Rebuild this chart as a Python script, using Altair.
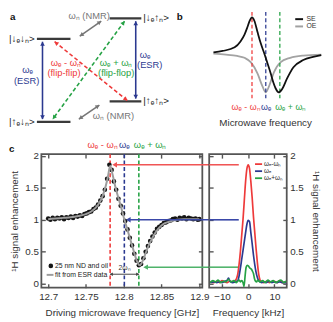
import math
import altair as alt
import pandas as pd

FONT = "Liberation Sans"
RED = "#ee3a3a"
BLUE = "#2b3990"
GREEN = "#25a244"
NMRGRAY = "#767676"
INK = "#333333"
FRAME = "#555555"

KINDS = ["red", "blue", "green", "gray", "black"]
KIND_COLORS = [RED, BLUE, GREEN, NMRGRAY, INK]


def kcolor():
    return alt.Color("kind:N", scale=alt.Scale(domain=KINDS, range=KIND_COLORS), legend=None)


# ---------------- panel a : energy level diagram (diagram units) ----------------
level_x1 = [31, 109, 31, 109]
level_x2 = [67, 143, 67, 143]
level_y = [32, 10, 121, 99]
ket_text = ["|↓ₑ↓ₙ>", "|↓ₑ↑ₙ>", "|↑ₑ↓ₙ>", "|↑ₑ↑ₙ>"]
ket_x = [1, 145, 1, 145]
ket_y = [32, 10, 121, 99]
arrow_x1 = [37, 137, 77, 76, 50, 125]
arrow_y1 = [35, 13, 29, 118, 35, 13]
arrow_x2 = [37, 137, 100, 98, 128, 48]
arrow_y2 = [118, 96, 13, 103, 98, 118]
arrow_kind = ["blue", "blue", "gray", "gray", "red", "green"]
arrow_dash = ["solid", "solid", "solid", "solid", "dash", "dash"]
lab_text = ["ωₑ", "(ESR)", "ωₑ", "(ESR)", "ωₑ - ωₙ", "(flip-flip)", "ωₑ + ωₙ", "(flip-flop)", "ωₙ (NMR)", "ωₙ (NMR)"]
lab_x = [21, 20, 147, 152, 62, 60, 116, 116, 87, 113]
lab_y = [65, 77, 49, 60, 58, 69, 58, 69, 8, 115]
lab_kind = ["blue", "blue", "blue", "blue", "red", "red", "green", "green", "gray", "gray"]

# ---------------- panel b : schematic polarization curves ----------------
se_x = [3.8, 12, 22.8, 28, 31.6, 34, 36, 38.3, 40.5, 43.3, 46, 49.1, 52, 55, 57.5, 59.4, 62.3, 65.2, 69.6, 75.4, 84.2, 93, 100.3]
se_y = [1.01, 1.04, 1.12, 1.25, 1.40, 1.55, 1.69, 1.78, 1.70, 1.45, 1.22, 1.00, 0.78, 0.55, 0.34, 0.22, 0.13, 0.20, 0.43, 0.68, 0.84, 0.91, 0.95]
oe_x = [3.8, 15, 25, 31.6, 37.4, 43.3, 47.7, 50.6, 53.5, 57.9, 63.7, 72.5, 84.2, 100.3]
oe_y = [0.98, 0.96, 0.93, 0.89, 0.79, 0.54, 0.26, 0.13, 0.26, 0.57, 0.79, 0.89, 0.94, 0.96]
b_mark_x = [38.3, 50.6, 63.2]
b_mark_kind = ["red", "blue", "green"]
b_mark_text = ["ωₑ - ωₙ", "ωₑ", "ωₑ + ωₙ"]
b_mark_text_x = [33, 51, 73]
b_leg_text = ["SE", "OE"]
b_leg_y = [1.74, 1.58]
b_leg_color = ["#111111", "#a0a0a0"]
b_xtitle = "Microwave frequency"

# ---------------- panel c left : DNP sweep ----------------
dots_f = [12.700, 12.703, 12.706, 12.709, 12.712, 12.715, 12.718, 12.721, 12.724, 12.727,
          12.730, 12.733, 12.736, 12.739, 12.742, 12.745, 12.748, 12.751, 12.754, 12.757,
          12.760, 12.763, 12.766, 12.769, 12.772, 12.775, 12.778, 12.781, 12.784, 12.787,
          12.790, 12.793, 12.796, 12.799, 12.802, 12.805, 12.808, 12.811, 12.814, 12.817,
          12.820, 12.823, 12.826, 12.829, 12.832, 12.835, 12.838, 12.841, 12.844, 12.847,
          12.850, 12.853, 12.856, 12.859, 12.862, 12.865, 12.868, 12.871, 12.874, 12.877,
          12.880, 12.883, 12.886, 12.889, 12.892, 12.895, 12.898, 12.900]
dots_e = [1.02, 1.00, 1.03, 1.01, 1.03, 1.02, 1.04, 1.01, 1.04, 1.03,
          1.05, 1.03, 1.06, 1.05, 1.07, 1.06, 1.09, 1.10, 1.12, 1.13,
          1.17, 1.19, 1.24, 1.30, 1.37, 1.47, 1.64, 1.86, 1.78, 1.60,
          1.47, 1.33, 1.22, 1.10, 0.98, 0.85, 0.72, 0.60, 0.47, 0.36,
          0.29, 0.31, 0.40, 0.50, 0.59, 0.67, 0.74, 0.80, 0.86, 0.89,
          0.92, 0.95, 0.96, 0.98, 0.99, 1.01, 1.02, 1.00, 1.03, 1.02,
          1.04, 1.01, 1.03, 1.02, 1.01, 1.02, 1.00, 1.01]
fit_f = [12.700, 12.710, 12.720, 12.730, 12.740, 12.750, 12.757, 12.763, 12.768, 12.772,
         12.776, 12.779, 12.782, 12.785, 12.788, 12.792, 12.796, 12.800, 12.805, 12.810,
         12.814, 12.818, 12.821, 12.824, 12.828, 12.833, 12.838, 12.845, 12.852, 12.860,
         12.870, 12.880, 12.890, 12.900]
fit_e = [1.01, 1.02, 1.03, 1.04, 1.06, 1.09, 1.13, 1.19, 1.27, 1.37,
         1.52, 1.67, 1.84, 1.72, 1.56, 1.38, 1.22, 1.04, 0.84, 0.64,
         0.48, 0.34, 0.29, 0.33, 0.45, 0.60, 0.72, 0.85, 0.93, 0.97,
         1.00, 1.01, 1.01, 1.01]
c_line_f = [12.782, 12.8008, 12.820]
c_line_kind = ["red", "blue", "green"]
c_top_text = ["ωₑ - ωₙ", "ωₑ", "ωₑ + ωₙ"]
c_top_x = [12.772, 12.8007, 12.835]
harrow_tip = [12.788, 12.806, 12.829]
harrow_level = [1.86, 1.0, 0.26]
harrow_color = ["#f05555", "#3a48a8", "#4fb36a"]
split_f = [12.782, 12.820]
split_level = 0.15

# ---------------- panel c right : NMR spectra ----------------
red_k = [-14.5, -13, -12, -11, -10, -9, -8, -7, -6, -5, -4.5, -4, -3.5, -3, -2.5, -2, -1.5, -1, -0.5, 0,
         0.5, 1, 1.5, 2, 2.5, 3, 3.5, 4, 4.5, 5, 6, 7, 8, 9, 10, 11, 12, 13, 14.5]
red_s = [0.03, 0.02, 0.04, 0.02, 0.05, 0.03, 0.02, 0.04, 0.03, 0.05, 0.08, 0.15, 0.30, 0.50, 0.75, 1.00, 1.30, 1.60, 1.80, 1.86,
         1.80, 1.60, 1.35, 1.05, 0.80, 0.55, 0.33, 0.15, 0.06, 0.03, 0.02, 0.04, 0.02, 0.03, 0.04, 0.02, 0.05, 0.02, 0.03]
blue_k = [-14.5, -13, -12, -11, -10, -9, -8, -7.5, -7, -6, -5, -4, -3.5, -3, -2.5, -2, -1.5, -1, -0.5, 0,
          0.5, 1, 1.5, 2, 2.5, 3, 3.5, 4, 4.5, 5, 6, 7, 8, 9, 10, 11, 12, 13, 14.5]
blue_s = [0.02, 0.03, 0.02, 0.03, 0.02, 0.04, 0.06, 0.09, 0.04, 0.02, 0.03, 0.05, 0.12, 0.24, 0.38, 0.52, 0.66, 0.80, 0.93, 0.99,
          0.97, 0.80, 0.63, 0.45, 0.30, 0.18, 0.10, 0.05, 0.03, 0.02, 0.03, 0.02, 0.04, 0.02, 0.03, 0.02, 0.03, 0.02, 0.02]
green_k = [-14.5, -13.5, -12.5, -11.5, -10.5, -9.5, -8.5, -7.5, -6.5, -5.5, -4.5, -4, -3.5, -3, -2.5, -2, -1.6, -1.2, -0.8, -0.4,
           0, 0.4, 0.8, 1.2, 1.6, 2, 2.4, 2.8, 3.2, 3.6, 4.5, 5.5, 6.5, 7.5, 8.5, 9.5, 10.5, 11.5, 12.5, 13.5, 14.5]
green_s = [0.02, 0.05, 0.03, 0.06, 0.02, 0.04, 0.03, 0.07, 0.03, 0.05, 0.02, 0.04, 0.06, 0.03, 0.05, 0.02, -0.04, 0.12, 0.26, 0.29,
           0.28, 0.26, 0.24, 0.23, 0.20, 0.16, 0.08, 0.04, 0.03, 0.06, 0.03, 0.05, 0.02, 0.06, 0.03, 0.05, 0.02, 0.04, 0.06, 0.02, 0.04]
r_arrow_end = -3.6
r_leg_text = ["ωₑ-ωₙ", "ωₑ", "ωₑ+ωₙ"]
r_leg_y = [1.87, 1.76, 1.65]
r_leg_kind = ["red", "blue", "green"]

# =============================== build ===============================
# layout: flat 2x2 grid with flush bounds; x origin = left edge of the panel-c plot
ORIGIN_LEFT = 34          # px from the diagram's left edge to the grid origin
TOP_TRIM = 3              # diagram units trimmed at the top of panel a
COL1_W, COL2_W = 164, 115
A_H, B_H = 122, 88
SX, SY = 0.95, 0.95
C_H = 136
ROW_GAP = 9
COL_GAP = 7
CR_W = 79

# ---- panel a
xa = alt.Scale(domain=[ORIGIN_LEFT / SX, (ORIGIN_LEFT + COL1_W) / SX], nice=False, zero=False)
ya = alt.Scale(domain=[TOP_TRIM, TOP_TRIM + A_H / SY], nice=False, zero=False, reverse=True)

levels = pd.DataFrame({"x": level_x1, "x2": level_x2, "y": level_y})
kets = pd.DataFrame({"x": ket_x, "y": ket_y, "t": ket_text})
arrows = pd.DataFrame({"x": arrow_x1, "y": arrow_y1, "x2": arrow_x2, "y2": arrow_y2,
                       "kind": arrow_kind, "dash": arrow_dash})
heads = []
for x1, y1, x2, y2, k in zip(arrow_x1, arrow_y1, arrow_x2, arrow_y2, arrow_kind):
    for ax, ay, bx, by in [(x1, y1, x2, y2), (x2, y2, x1, y1)]:
        dx, dy = (bx - ax) * SX, (by - ay) * SY
        L = math.hypot(dx, dy)
        ang = math.degrees(math.atan2(dx, -dy)) % 360
        heads.append({"x": bx - dx / L * 2.0 / SX, "y": by - dy / L * 2.0 / SY, "ang": ang, "kind": k})
heads = pd.DataFrame(heads)
alabs = pd.DataFrame({"x": lab_x, "y": lab_y, "t": lab_text, "kind": lab_kind})

AX = alt.X("x:Q", scale=xa, axis=None)
AY = alt.Y("y:Q", scale=ya, axis=None)

pa = alt.layer(
    alt.Chart(levels).mark_rule(color="#3a3a3a", strokeWidth=2.2).encode(x=AX, x2="x2:Q", y=AY),
    alt.Chart(arrows[arrows.dash == "solid"]).mark_rule(strokeWidth=1.6).encode(
        x=AX, y=AY, x2="x2:Q", y2="y2:Q", color=kcolor()),
    alt.Chart(arrows[arrows.dash == "dash"]).mark_rule(strokeWidth=1.6, strokeDash=[4, 2.5]).encode(
        x=AX, y=AY, x2="x2:Q", y2="y2:Q", color=kcolor()),
    alt.Chart(heads).mark_point(shape="triangle-up", filled=True, size=22, opacity=1).encode(
        x=AX, y=AY, angle=alt.Angle("ang:Q", scale=None), color=kcolor()),
    alt.Chart(kets).mark_text(align="left", baseline="middle", fontSize=10, color="#222222").encode(
        x=AX, y=AY, text="t:N"),
    alt.Chart(alabs).mark_text(align="center", baseline="middle", fontSize=9.5).encode(
        x=AX, y=AY, text="t:N", color=kcolor()),
    alt.Chart(pd.DataFrame({"t": ["a"]})).mark_text(
        align="left", baseline="top", fontSize=10, fontWeight="bold", color="#111111").encode(
        x=alt.value(-32), y=alt.value(0), text="t:N"),
).properties(width=COL1_W, height=A_H)

# ---- panel b
xb = alt.Scale(domain=[0, 101], nice=False, zero=False)
yb = alt.Scale(domain=[0, 1.9], nice=False, zero=False)
BX = alt.X("x:Q", scale=xb, axis=alt.Axis(title=None, labels=False, ticks=False,
                                            domainColor=FRAME, domainWidth=2, grid=False))
BY = alt.Y("y:Q", scale=yb, axis=alt.Axis(title=["Nuclear", "polarization"], values=[1], tickSize=3,
                                            tickColor=FRAME, domainColor=FRAME, domainWidth=2, grid=False,
                                            labelFontSize=10, labelColor=INK, labelPadding=3,
                                            titleFontSize=10, titleFontWeight="normal", titleColor=INK,
                                            titlePadding=4, titleLineHeight=11))
BX0 = alt.X("x:Q", scale=xb, axis=None)
BY0 = alt.Y("y:Q", scale=yb, axis=None)
se_df = pd.DataFrame({"x": se_x, "y": se_y})
oe_df = pd.DataFrame({"x": oe_x, "y": oe_y})
bm = pd.DataFrame({"x": b_mark_x, "kind": b_mark_kind})
bmt = pd.DataFrame({"x": b_mark_text_x, "t": b_mark_text, "kind": b_mark_kind, "y": [-0.2] * 3})
bleg = pd.DataFrame({"t": b_leg_text, "y": b_leg_y, "c": b_leg_color, "x": [77] * 2, "x2": [84] * 2, "xt": [87] * 2})

pb = alt.layer(
    alt.Chart(oe_df).mark_line(color="#a3a3a3", strokeWidth=1.8, interpolate="monotone").encode(x=BX, y=BY),
    alt.Chart(bm).mark_rule(strokeWidth=1.5, strokeDash=[4, 2.5], opacity=0.85).encode(x=BX0, color=kcolor()),
    alt.Chart(se_df).mark_line(color="#111111", strokeWidth=1.8, interpolate="monotone").encode(x=BX0, y=BY0),
    alt.Chart(bmt).mark_text(fontSize=9, baseline="middle").encode(x=BX0, y=BY0, text="t:N", color=kcolor()),
    alt.Chart(bleg).mark_rule(strokeWidth=2).encode(x=BX0, x2="x2:Q", y=BY0,
                                                    color=alt.Color("c:N", scale=None)),
    alt.Chart(bleg).mark_text(align="left", baseline="middle", fontSize=7, color=INK).encode(
        x=alt.X("xt:Q", scale=xb, axis=None), y=BY0, text="t:N"),
    alt.Chart(pd.DataFrame({"t": [b_xtitle]})).mark_text(
        align="center", baseline="middle", fontSize=10, color=INK).encode(
        x=alt.value(COL2_W / 2), y=alt.value(B_H + 25), text="t:N"),
    alt.Chart(pd.DataFrame({"t": ["b"]})).mark_text(
        align="left", baseline="top", fontSize=10, fontWeight="bold", color="#111111").encode(
        x=alt.value(-33), y=alt.value(0), text="t:N"),
).properties(width=COL2_W, height=B_H)

# ---- panel c shared pieces
yc = alt.Scale(domain=[-0.06, 2.025], nice=False, zero=False)
TICK = dict(domain=False, tickSize=4, offset=-4, tickColor=FRAME, tickWidth=1.4, grid=False)
YVALS = [0, 0.5, 1, 1.5, 2]

# ---- panel c left
xl = alt.Scale(domain=[12.691, 12.904], nice=False, zero=False)
LX0 = alt.X("x:Q", scale=xl, axis=None)
LY0 = alt.Y("y:Q", scale=yc, axis=None)
dots = pd.DataFrame({"x": dots_f, "y": dots_e})
fit = pd.DataFrame({"x": fit_f, "y": fit_e})
cl_lines = pd.DataFrame({"x": c_line_f, "kind": c_line_kind})
cl_top = pd.DataFrame({"x": c_top_x, "t": c_top_text, "kind": c_line_kind, "y": [2.17] * 3})
harr = pd.DataFrame({"x": harrow_tip, "x2": [12.913] * 3, "y": harrow_level, "c": harrow_color})
split = pd.DataFrame({"x": [split_f[0]], "x2": [split_f[1]], "y": [split_level]})
split_heads = pd.DataFrame({"x": [split_f[0] + 0.0015, split_f[1] - 0.0015], "y": [split_level] * 2,
                            "s": ["triangle-left", "triangle-right"]})
leg_rows = pd.DataFrame({"x": [12.709, 12.709], "y": [0.28, 0.14],
                         "t": ["25 nm ND and oil", "fit from ESR data"]})

cl = alt.layer(
    alt.Chart(cl_lines).mark_rule(strokeWidth=1.6, strokeDash=[4, 2.5]).encode(x=LX0, color=kcolor()),
    alt.Chart(dots).mark_circle(size=22, color="#151515", opacity=1).encode(
        x=alt.X("x:Q", scale=xl, axis=alt.Axis(values=[12.7, 12.75, 12.8, 12.85, 12.9], format="~g",
                                                title="Driving microwave frequency [GHz]", labelPadding=4,
                                                titlePadding=6, **TICK)),
        y=alt.Y("y:Q", scale=yc, axis=alt.Axis(values=YVALS, format="~g", title="¹H signal enhancement",
                                                labelPadding=3, titlePadding=5, **TICK))),
    alt.Chart(fit).mark_line(color="#9c9c9c", strokeWidth=2, interpolate="monotone").encode(x=LX0, y=LY0),
    alt.Chart(harr).mark_rule(strokeWidth=1.6).encode(x=LX0, x2="x2:Q", y=LY0, color=alt.Color("c:N", scale=None)),
    alt.Chart(harr).mark_point(shape="triangle-left", filled=True, size=30, opacity=1).encode(
        x=LX0, y=LY0, color=alt.Color("c:N", scale=None)),
    alt.Chart(cl_top).mark_text(fontSize=9.5, baseline="middle").encode(x=LX0, y=LY0, text="t:N", color=kcolor()),
    alt.Chart(split).mark_rule(strokeWidth=1, color="#444444").encode(x=LX0, x2="x2:Q", y=LY0),
    alt.Chart(split_heads).mark_point(filled=True, size=14, opacity=1, color="#444444").encode(
        x=LX0, y=LY0, shape=alt.Shape("s:N", scale=None)),
    alt.Chart(pd.DataFrame({"x": [12.801], "y": [0.25], "t": ["2ωₙ"]})).mark_text(
        fontSize=7, color="#333333").encode(x=LX0, y=LY0, text="t:N"),
    alt.Chart(leg_rows.iloc[:1]).mark_circle(size=22, color="#151515", opacity=1).encode(
        x=alt.X("x0:Q", scale=xl, axis=None), y=LY0).transform_calculate(x0="datum.x - 0.0055"),
    alt.Chart(leg_rows.iloc[1:]).mark_rule(strokeWidth=2, color="#9c9c9c").encode(
        x=alt.X("x0:Q", scale=xl, axis=None), x2="x1:Q", y=LY0).transform_calculate(
        x0="datum.x - 0.011", x1="datum.x - 0.002"),
    alt.Chart(leg_rows).mark_text(align="left", baseline="middle", fontSize=7, color="#222222").encode(
        x=LX0, y=LY0, text="t:N"),
    alt.Chart(pd.DataFrame({"x": [12.8], "y": [1.0]})).mark_point(opacity=0).encode(
        x=alt.X("x:Q", scale=xl, axis=alt.Axis(orient="top", values=[12.7, 12.75, 12.8, 12.85, 12.9],
                                                labels=False, title=None, **TICK)),
        y=alt.Y("y:Q", scale=yc, axis=alt.Axis(orient="right", values=YVALS, labels=False, title=None, **TICK))),
    alt.Chart(pd.DataFrame({"t": ["c"]})).mark_text(
        align="left", baseline="top", fontSize=10, fontWeight="bold", color="#111111").encode(
        x=alt.value(-33), y=alt.value(-10), text="t:N"),
).resolve_axis(x="independent", y="independent").properties(
    width=COL1_W, height=C_H, view=alt.ViewBackground(stroke=FRAME, strokeWidth=1.8))

# ---- panel c right
xr = alt.Scale(domain=[-14.9, 14.7], nice=False, zero=False)
RX0 = alt.X("x:Q", scale=xr, axis=None)
RY0 = alt.Y("y:Q", scale=yc, axis=None)
spec = pd.concat([
    pd.DataFrame({"x": red_k, "y": red_s, "kind": "red"}),
    pd.DataFrame({"x": blue_k, "y": blue_s, "kind": "blue"}),
    pd.DataFrame({"x": green_k, "y": green_s, "kind": "green"}),
])
rarr = pd.DataFrame({"x": [-14.9] * 3, "x2": [r_arrow_end] * 3, "y": harrow_level, "c": harrow_color})
rleg = pd.DataFrame({"x": [2.6] * 3, "x2": [5.3] * 3, "xt": [6.0] * 3, "y": r_leg_y, "t": r_leg_text,
                     "kind": r_leg_kind})

cr = alt.layer(
    alt.Chart(rarr).mark_rule(strokeWidth=1.6).encode(x=RX0, x2="x2:Q", y=RY0, color=alt.Color("c:N", scale=None)),
    alt.Chart(spec).mark_line(strokeWidth=1.7, interpolate="monotone").encode(
        x=alt.X("x:Q", scale=xr, axis=alt.Axis(values=[-10, 0, 10], title="Frequency [kHz]",
                                                labelPadding=4, titlePadding=6, **TICK)),
        y=alt.Y("y:Q", scale=yc, axis=alt.Axis(orient="right", values=YVALS, format="~g",
                                                title="¹H signal enhancement", labelPadding=3,
                                                titlePadding=7, **TICK)),
        color=kcolor(), detail="kind:N"),
    alt.Chart(rleg).mark_rule(strokeWidth=1.8).encode(x=RX0, x2="x2:Q", y=RY0, color=kcolor()),
    alt.Chart(rleg).mark_text(align="left", baseline="middle", fontSize=6.5, color="#222222").encode(
        x=alt.X("xt:Q", scale=xr, axis=None), y=RY0, text="t:N"),
    alt.Chart(pd.DataFrame({"x": [0], "y": [1.0]})).mark_point(opacity=0).encode(
        x=alt.X("x:Q", scale=xr, axis=alt.Axis(orient="top", values=[-10, 0, 10], labels=False, title=None, **TICK)),
        y=alt.Y("y:Q", scale=yc, axis=alt.Axis(orient="left", values=YVALS, labels=False, title=None, **TICK))),
).resolve_axis(x="independent", y="independent").properties(
    width=CR_W, height=C_H, view=alt.ViewBackground(stroke=FRAME, strokeWidth=1.8))

chart = alt.concat(pa, pb, cl, cr, columns=2, spacing={"row": ROW_GAP, "column": COL_GAP},
                   bounds="flush", align="all", padding=0).configure(font=FONT).configure_view(
    strokeWidth=0).configure_axis(labelFontSize=10, titleFontSize=10, labelColor=INK, titleColor=INK,
                                   titleFontWeight="normal", labelFont=FONT, titleFont=FONT)

chart.save("out.html", embed_options={"renderer": "svg", "actions": False})
